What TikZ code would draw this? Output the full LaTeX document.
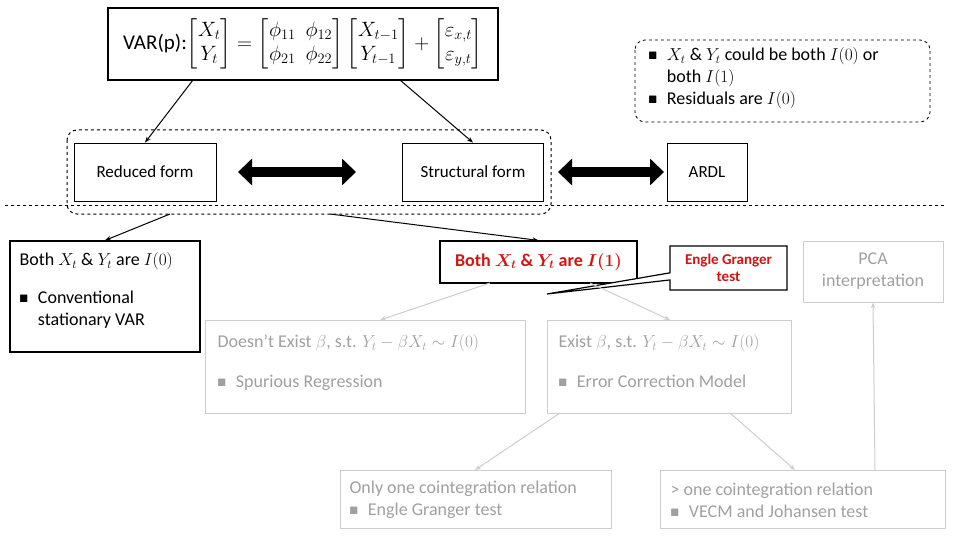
\documentclass[tikz,border=0pt]{standalone}
\usepackage{fontspec}
\setmainfont{Carlito}
\usepackage{amsmath,amssymb}
\usetikzlibrary{shapes.callouts,arrows.meta}
\definecolor{faded}{RGB}{205,205,205}
\definecolor{fadedtext}{RGB}{160,160,160}
\definecolor{hot}{RGB}{210,20,20}
\newcommand{\bul}{\raisebox{1pt}{\scalebox{0.6}{$\blacksquare$}}\hspace{10pt}}
\tikzset{
  box/.style={draw,line width=1.2pt,inner sep=0pt},
  gbox/.style={draw=faded,line width=1pt,inner sep=0pt},
  arr/.style={-{Stealth[length=6pt]},line width=1pt},
  garr/.style={-{Stealth[length=6pt]},draw=faded,line width=1pt},
  dbl/.style={{Triangle[length=14pt,width=26pt]}-{Triangle[length=14pt,width=26pt]},line width=10pt}
}
\begin{document}
\begin{tikzpicture}[x=1pt,y=-1pt,font=\fontsize{17}{20}\selectfont]
  \useasboundingbox (0,0) rectangle (960,540);
  % top equation
  \node[box,minimum width=390pt,minimum height=72pt,font=\fontsize{21}{24}\selectfont] (var) at (303,44) {VAR(p):$\begin{bmatrix}X_t\\ Y_t\end{bmatrix}=\begin{bmatrix}\phi_{11} & \phi_{12}\\ \phi_{21} & \phi_{22}\end{bmatrix}\begin{bmatrix}X_{t-1}\\ Y_{t-1}\end{bmatrix}+\begin{bmatrix}\varepsilon_{x,t}\\ \varepsilon_{y,t}\end{bmatrix}$};
  % note
  \draw[dashed,rounded corners=10pt,line width=0.8pt] (635,40) rectangle (930,122);
  \node[anchor=north west,align=left,font=\fontsize{18}{22}\selectfont] (note) at (645,44) {\bul$X_t$ \& $Y_t$ could be both $I(0)$ or\\ \phantom{\bul}both $I(1)$\\ \bul Residuals are $I(0)$};
  % forms
  \draw[dashed,rounded corners=10pt,line width=1pt] (67,130) rectangle (551,214);
  \node[box,line width=0.8pt,minimum width=142pt,minimum height=58pt] (red) at (145,172) {Reduced form};
  \node[box,line width=0.8pt,minimum width=141pt,minimum height=58pt] (str) at (473,172) {Structural form};
  \node[box,line width=0.8pt,minimum width=80pt,minimum height=58pt] (ardl) at (707,172) {ARDL};
  \draw[dbl] (238,172) -- (356,172);
  \draw[dbl] (558,172) -- (664,172);
  \draw[arr] (193,80) -- (red.north);
  \draw[arr] (400,80) -- (str.north);
  \draw[dashed,line width=1pt] (5,205) -- (945,205);
  % second level
  \node[box,minimum width=190pt,minimum height=111pt] (ione) at (105,296.5) {};
  \node[anchor=north west,align=left,font=\fontsize{18}{22}\selectfont] at (16,249) {Both $X_t$ \& $Y_t$ are $I(0)$\\[16pt] \bul Conventional\\ \phantom{\bul}stationary VAR};
  \node[box,minimum width=197pt,minimum height=42pt,text=hot,font=\fontsize{18}{20}\selectfont\bfseries] (itwo) at (538.5,262) {Both $\boldsymbol{X_t}$ \& $\boldsymbol{Y_t}$ are $\boldsymbol{I(1)}$};
  \draw[arr] (170,214) -- (ione.north);
  \draw[arr] (330,214) -- (itwo.north);
  \node[rectangle callout,draw,line width=1.2pt,fill=white,minimum width=117pt,minimum height=44pt,align=center,text=hot,font=\fontsize{15}{17}\selectfont\bfseries,callout absolute pointer={(547,294)}] (eg) at (728.5,268) {Engle Granger\\ test};
  \node[gbox,minimum width=140pt,minimum height=61pt,align=center,text=fadedtext,font=\fontsize{18}{22}\selectfont] (pca) at (873,271.5) {PCA\\ interpretation};
  % third level
  \node[gbox,minimum width=320pt,minimum height=93pt] (nocoint) at (365,366.5) {};
  \node[anchor=north west,align=left,text=fadedtext,font=\fontsize{18}{22}\selectfont] at (214,331) {Doesn't Exist $\beta$, s.t. $Y_t-\beta X_t\sim I(0)$\\[18pt] \bul Spurious Regression};
  \node[gbox,minimum width=244pt,minimum height=93pt] (coint) at (669,366.5) {};
  \node[anchor=north west,align=left,text=fadedtext,font=\fontsize{18}{22}\selectfont] at (555,331) {Exist $\beta$, s.t. $Y_t-\beta X_t\sim I(0)$\\[18pt] \bul Error Correction Model};
  \draw[garr] (490,283) -- (380,320);
  \draw[garr] (590,283) -- (670,320);
  % fourth level
  \node[gbox,minimum width=271pt,minimum height=58pt] (one) at (475.5,499) {};
  \node[anchor=west,align=left,text=fadedtext,font=\fontsize{18}{22}\selectfont] at (346,500) {Only one cointegration relation\\ \bul Engle Granger test};
  \node[gbox,minimum width=285pt,minimum height=58pt] (many) at (802.5,499) {};
  \node[anchor=west,align=left,text=fadedtext,font=\fontsize{18}{22}\selectfont] at (667,500) {> one cointegration relation\\ \bul VECM and Johansen test};
  \draw[garr] (560,413) -- (475,470);
  \draw[garr] (730,413) -- (795,470);
  \draw[garr] (875,470) -- (pca.south);
\end{tikzpicture}
\end{document}
